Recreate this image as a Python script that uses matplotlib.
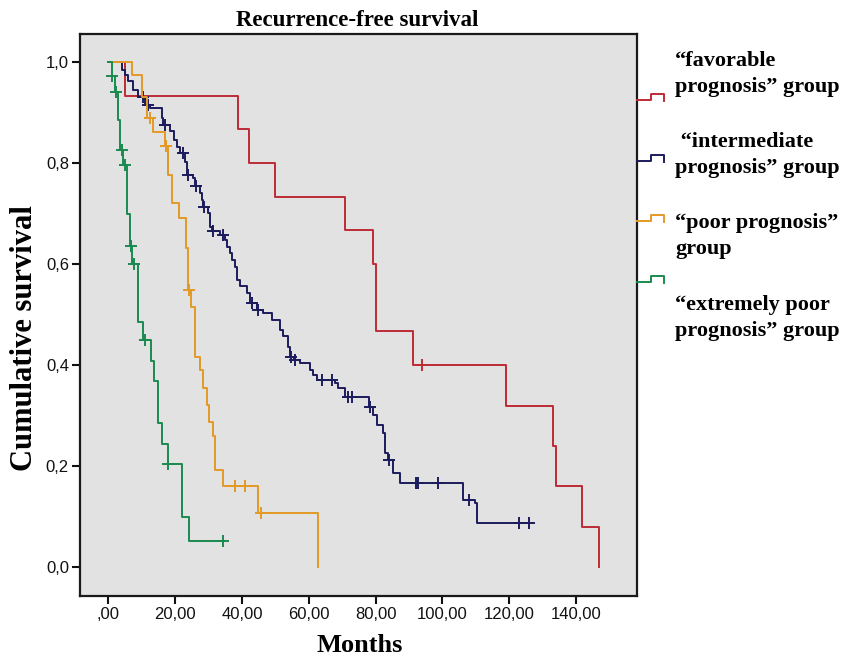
import matplotlib.pyplot as plt
from matplotlib.lines import Line2D

# Kaplan-Meier curves:
# time of each drop (months) and the survival right after it
fav_t = [0, 5.0, 38.8, 42.0, 50.0, 71.0, 79.2, 80.1, 91.1, 119.0, 133.0, 134.0, 141.9, 147.0]
fav_s = [1.0, 0.933, 0.867, 0.800, 0.733, 0.667, 0.600, 0.467, 0.400, 0.320, 0.240, 0.160, 0.080, 0.0]
fav_ct = [94.0]
fav_cs = [0.400]

int_t = [0, 4.0, 5.0, 6.0, 7.5, 9.0, 11.0, 12.5, 16.0, 16.5, 18.5, 19.5, 20.5, 21.5, 23.0,
         23.5, 25.4, 26.0, 27.5, 28.0, 28.3, 29.9, 30.4, 31.0, 33.5, 34.9, 35.4, 36.4, 36.9,
         37.9, 38.4, 39.4, 41.4, 42.4, 44.4, 46.4, 48.9, 51.4, 52.4, 53.9, 54.4, 55.5, 57.4,
         60.4, 61.4, 62.4, 67.9, 68.9, 70.9, 78.0, 79.3, 80.3, 82.3, 82.8, 83.8, 85.3, 87.3,
         106.3, 109.8, 110.3, 126.1]
int_s = [1.0, 0.985, 0.975, 0.962, 0.945, 0.932, 0.915, 0.909, 0.889, 0.876, 0.863, 0.846, 0.833, 0.820, 0.803,
         0.777, 0.770, 0.754, 0.741, 0.727, 0.714, 0.701, 0.674, 0.665, 0.658, 0.648, 0.635, 0.622, 0.609,
         0.595, 0.569, 0.556, 0.543, 0.523, 0.509, 0.503, 0.490, 0.470, 0.457, 0.437, 0.417, 0.410, 0.404,
         0.391, 0.381, 0.371, 0.364, 0.354, 0.338, 0.318, 0.302, 0.282, 0.265, 0.226, 0.212, 0.186, 0.166,
         0.133, 0.127, 0.088, 0.088]
int_ct = [10.5, 12.0, 17.0, 22.3, 23.8, 26.2, 28.5, 31.2, 34.3, 42.9, 44.9, 54.6, 55.9, 63.9, 66.9,
          71.9, 72.9, 78.2, 83.9, 92.1, 92.8, 98.8, 108.1, 123.1, 126.1]
int_cs = [0.932, 0.915, 0.876, 0.820, 0.777, 0.754, 0.714, 0.665, 0.658, 0.523, 0.509, 0.417, 0.410, 0.371, 0.371,
          0.338, 0.338, 0.318, 0.212, 0.166, 0.166, 0.166, 0.133, 0.088, 0.088]

poor_t = [0, 7.0, 10.0, 11.5, 13.5, 17.0, 18.0, 19.0, 21.0, 23.3, 23.8, 24.8, 26.0, 27.5, 28.4,
          29.5, 30.2, 31.2, 32.0, 34.2, 44.9, 62.9]
poor_s = [1.0, 0.974, 0.932, 0.890, 0.862, 0.834, 0.777, 0.721, 0.692, 0.632, 0.549, 0.516, 0.417, 0.390, 0.354,
          0.321, 0.288, 0.259, 0.193, 0.161, 0.108, 0.0]
poor_ct = [12.5, 17.2, 24.0, 37.9, 40.9, 45.7]
poor_cs = [0.890, 0.834, 0.549, 0.161, 0.161, 0.108]

ext_t = [0, 1.0, 2.0, 2.8, 3.6, 4.5, 5.5, 6.5, 7.2, 9.0, 10.5, 12.7, 13.7, 15.0, 16.0, 18.0, 22.0, 24.0, 34.2]
ext_s = [1.0, 0.973, 0.942, 0.886, 0.826, 0.797, 0.700, 0.636, 0.600, 0.486, 0.450, 0.409, 0.368, 0.286, 0.245,
         0.205, 0.100, 0.051, 0.051]
ext_ct = [1.2, 2.2, 4.0, 5.0, 6.8, 7.6, 11.0, 17.8, 34.2]
ext_cs = [0.973, 0.942, 0.826, 0.797, 0.636, 0.600, 0.450, 0.205, 0.051]

labels = ["\u201cfavorable\nprognosis\u201d group",
          " \u201cintermediate\nprognosis\u201d group",
          "\u201cpoor prognosis\u201d\ngroup",
          "\u201cextremely poor\nprognosis\u201d group"]
colors = ["#bf2b35", "#1c1c5c", "#e39a26", "#1a8a4f"]

x_ticks = [0, 20, 40, 60, 80, 100, 120, 140]
x_ticklabels = [",00", "20,00", "40,00", "60,00", "80,00", "100,00", "120,00", "140,00"]
y_ticks = [0.0, 0.2, 0.4, 0.6, 0.8, 1.0]
y_ticklabels = ["0,0", "0,2", "0,4", "0,6", "0,8", "1,0"]

W, H = 858, 657
fig = plt.figure(figsize=(W / 100, H / 100), dpi=100)
ax = fig.add_axes([80 / W, 1 - 596 / H, 557 / W, 562 / H])
ax.set_facecolor("#e2e2e2")

series = [(fav_t, fav_s, fav_ct, fav_cs), (int_t, int_s, int_ct, int_cs),
          (poor_t, poor_s, poor_ct, poor_cs), (ext_t, ext_s, ext_ct, ext_cs)]
for (t, s, ct, cs), c in zip(series, colors):
    ax.step(t, s, where="post", color=c, lw=1.4)
    ax.plot(ct, cs, ls="none", marker="+", ms=8, mew=1.4, color=c)

ax.set_xlim(-8.5, 158.3)
ax.set_ylim(-0.057, 1.056)
ax.set_xticks(x_ticks)
ax.set_xticklabels(x_ticklabels)
ax.set_yticks(y_ticks)
ax.set_yticklabels(y_ticklabels)
tick_font = ["Liberation Sans Narrow", "Liberation Sans", "DejaVu Sans"]
for lab in ax.get_xticklabels() + ax.get_yticklabels():
    lab.set_family(tick_font)
    lab.set_fontsize(12)
ax.tick_params(direction="out", length=6, width=1.5, pad=2, colors="#111111")
ax.tick_params(top=False, right=False)
for sp in ax.spines.values():
    sp.set_linewidth(1.6)
    sp.set_color("#1a1a1a")

serif = ["Liberation Serif", "DejaVu Serif"]
fig.text(357 / W, 1 - 20 / H, "Recurrence-free survival", ha="center", va="center",
         family=serif, weight="bold", fontsize=16.5)
fig.text(360 / W, 1 - 645 / H, "Months", ha="center", va="center",
         family=serif, weight="bold", fontsize=19)
fig.text(25 / W, 1 - 338 / H, "Cumulative survival", ha="center", va="center", rotation=90,
         family=serif, weight="bold", fontsize=22)

# legend outside the frame: step glyph plus two-line label
glyph_y = [100, 161, 221, 282]
text_y = [74, 155, 236, 318]
for gy, ty, lab, c in zip(glyph_y, text_y, labels, colors):
    gx = [637, 651, 651, 664, 664]
    gyy = [gy, gy, gy - 6, gy - 6, gy + 1]
    fig.add_artist(Line2D([x / W for x in gx], [1 - y / H for y in gyy],
                          transform=fig.transFigure, color=c, lw=1.4))
    fig.text(675 / W, 1 - ty / H, lab, ha="left", va="center", family=serif,
             weight="bold", fontsize=16, linespacing=1.4)

plt.savefig("out.png", dpi=100)
